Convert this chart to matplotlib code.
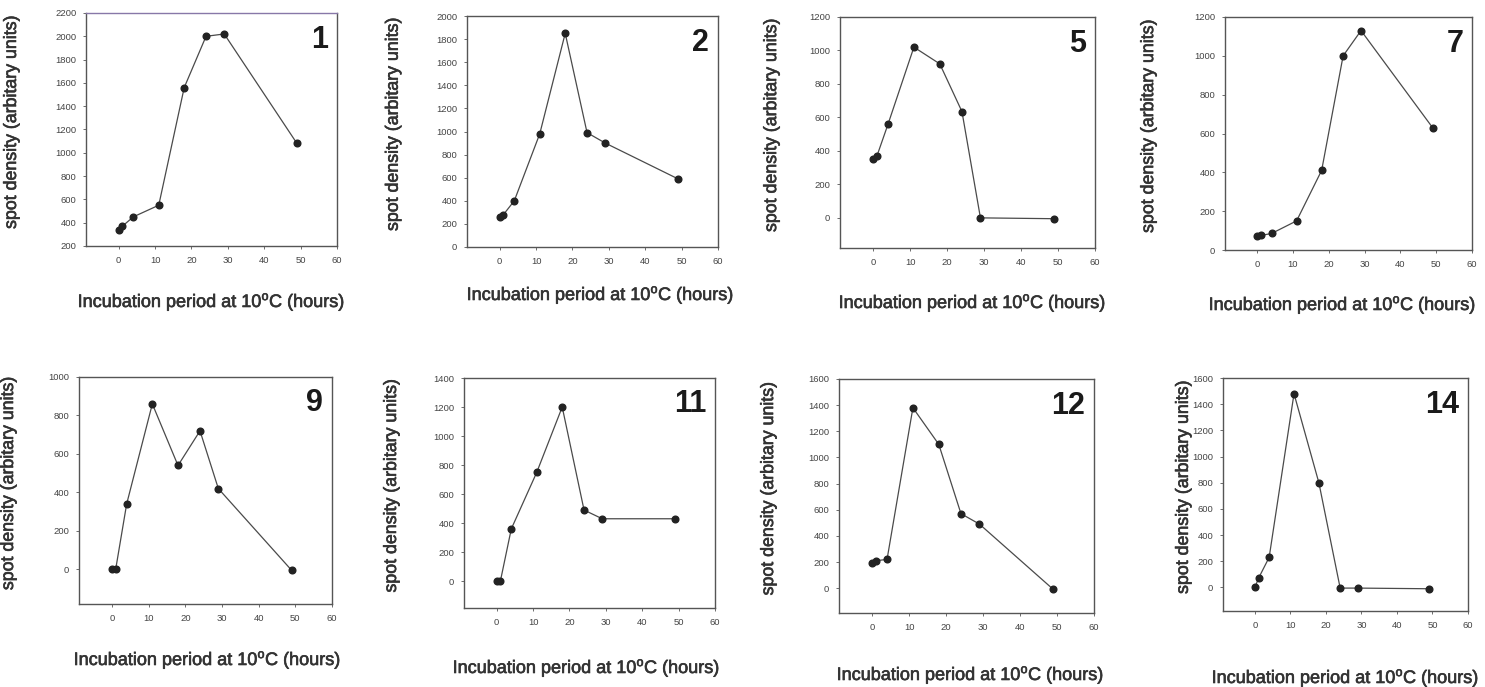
import matplotlib
matplotlib.use("Agg")
import matplotlib.pyplot as plt
import matplotlib.patheffects as pe
import numpy as np

plt.rcParams["font.family"] = ["Liberation Sans", "DejaVu Sans"]
plt.rcParams["mathtext.fontset"] = "custom"
plt.rcParams["mathtext.rm"] = "Liberation Sans"

# ------------------------------------------------------------------
# Data
# ------------------------------------------------------------------
hours = [0, 1, 4, 11, 18, 24, 29, 49]
spot_ids = ["1", "2", "5", "7", "9", "11", "12", "14"]

spot_1 = [340, 370, 450, 550, 1560, 2000, 2020, 1080]
spot_2 = [260, 280, 400, 980, 1850, 990, 900, 590]
spot_5 = [350, 370, 560, 1020, 920, 635, 0, -5]
spot_7 = [70, 75, 85, 150, 410, 1000, 1130, 630]
spot_9 = [0, 0, 340, 860, 540, 720, 420, -5]
spot_11 = [0, 0, 360, 750, 1200, 490, 430, 430]
spot_12 = [190, 210, 220, 1380, 1100, 570, 490, -10]
spot_14 = [0, 70, 230, 1480, 800, -5, -5, -10]

series = [spot_1, spot_2, spot_5, spot_7, spot_9, spot_11, spot_12, spot_14]

y_limits = [(200, 2200), (0, 2000), (-180, 1200), (0, 1200),
            (-180, 1000), (-185, 1400), (-190, 1600), (-180, 1600)]

# ------------------------------------------------------------------
# Layout: axes boxes in pixels (left, top, right, bottom)
# ------------------------------------------------------------------
W, H = 1485, 687
boxes = [(86, 13, 337, 246), (467, 16, 718, 247), (840, 17, 1095, 248),
         (1225, 17, 1472, 250), (79, 377, 332, 604), (464, 378, 715, 608),
         (839, 379, 1094, 613), (1223, 378, 1468, 611)]
ylab_x = [-0.263, -0.26, -0.235, -0.275, -0.245, -0.255, -0.243, -0.127]
xlab_pos = [(211, 302), (600, 295), (972, 303), (1342, 305),
            (207, 660), (586, 668), (970, 675), (1345, 678)]

thick = [pe.withStroke(linewidth=0.45, foreground="#333333")]

fig = plt.figure(figsize=(W / 100, H / 100), dpi=100)

for i, (vals, sid) in enumerate(zip(series, spot_ids)):
    l, t, r, b = boxes[i]
    ax = fig.add_axes([l / W, 1 - b / H, (r - l) / W, (b - t) / H])
    ax.plot(hours, vals, color="#4a4a4a", lw=0.9, marker="o", ms=4.8,
            mfc="#222222", mec="#222222", zorder=3)
    ymin, ymax = y_limits[i]
    ax.set_xlim(-9, 60)
    ax.set_ylim(ymin, ymax)
    ax.set_xticks(np.arange(0, 61, 10))
    ax.set_yticks(np.arange(max(ymin, 0), ymax + 1, 200))
    ax.tick_params(labelsize=6.8, length=2, width=0.6, colors="#555555",
                   labelcolor="#444444", pad=5)
    for sp in ax.spines.values():
        sp.set_color("#555555")
        sp.set_linewidth(1.0)
    if i == 0:
        ax.spines["top"].set_color("#8878a8")

    ax.set_ylabel("spot density (arbitary units)", fontsize=12.8,
                  color="#333333", path_effects=thick)
    ax.yaxis.set_label_coords(ylab_x[i], 0.53)
    ax.text(0.965, 0.95, sid, transform=ax.transAxes, ha="right", va="top",
            fontsize=22, fontweight="bold", color="#1a1a1a")

    xx, yy = xlab_pos[i]
    fig.text(xx / W, 1 - yy / H, "Incubation period at 10$^{\\mathrm{o}}$C (hours)",
             ha="center", va="center", fontsize=13, color="#333333",
             path_effects=thick)

plt.savefig("out.png", dpi=100)
